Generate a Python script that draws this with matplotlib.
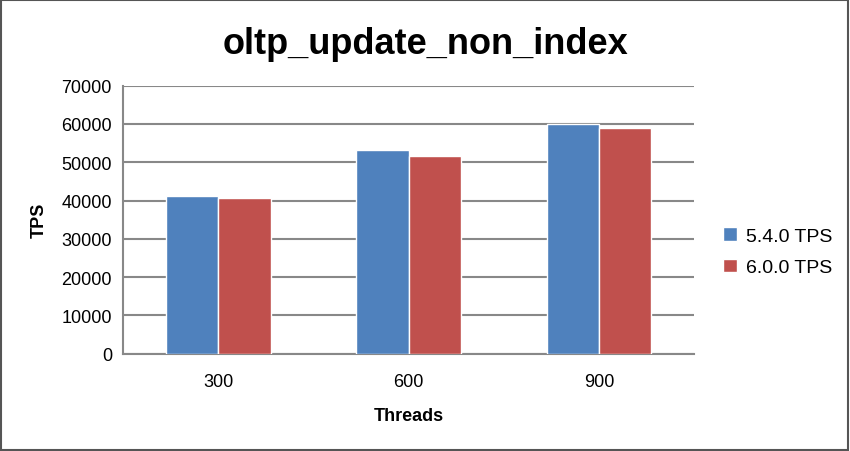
import matplotlib.pyplot as plt
import numpy as np

plt.rcParams['font.family'] = ['Liberation Sans', 'DejaVu Sans']

threads = ['300', '600', '900']
tps_540 = [41100, 53100, 59900]
tps_600 = [40700, 51600, 58850]

fig = plt.figure(figsize=(8.5, 4.52), dpi=100)
ax = fig.add_axes([0.1447, 0.2153, 0.6718, 0.5929])

x = np.arange(len(threads))
w = 0.275
ax.bar(x - w / 2, tps_540, w, color='#4F81BD', edgecolor='white', linewidth=1, label='5.4.0 TPS', zorder=3)
ax.bar(x + w / 2, tps_600, w, color='#C0504D', edgecolor='white', linewidth=1, label='6.0.0 TPS', zorder=3)

ax.set_xlim(-0.5, 2.5)
ax.set_ylim(0, 70000)
ax.set_yticks(np.arange(0, 70001, 10000))
ax.set_xticks(x)
ax.set_xticklabels(threads)
ax.yaxis.grid(True, color='#888888', linewidth=1.5, zorder=0)
ax.tick_params(axis='y', length=0, labelsize=13, pad=8)
ax.tick_params(axis='x', length=0, labelsize=13, pad=14)
for s in ['top', 'right']:
    ax.spines[s].set_visible(False)
for s in ['left', 'bottom']:
    ax.spines[s].set_color('#888888')
    ax.spines[s].set_linewidth(1.5)

ax.set_xlabel('Threads', fontsize=13, fontweight='bold', labelpad=12)
ax.set_ylabel('TPS', fontsize=13, fontweight='bold', labelpad=10)
fig.suptitle('oltp_update_non_index', fontsize=26, fontweight='bold', x=0.5, y=0.94)

ax.legend(loc='center left', bbox_to_anchor=(1.02, 0.38), frameon=False,
          fontsize=14, handlelength=0.7, handleheight=0.7, handletextpad=0.5,
          labelspacing=0.7)

fig.patches.append(plt.Rectangle((0.001, 0.002), 0.997, 0.996, transform=fig.transFigure,
                                 fill=False, edgecolor='#555555', linewidth=1.5))

fig.savefig('out.png', dpi=100)
